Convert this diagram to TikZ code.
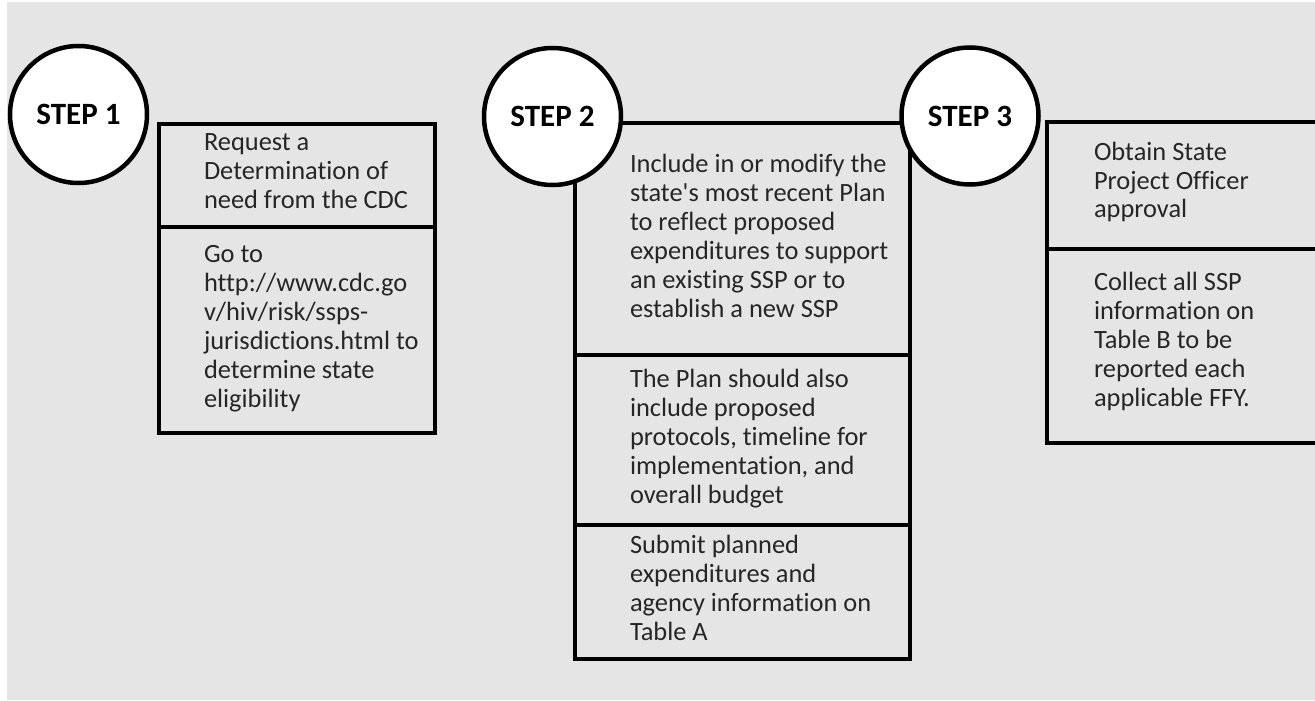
\documentclass[tikz,border=0pt]{standalone}
\usepackage{fontspec}
\setmainfont{Carlito}[Ligatures={NoCommon}]
\definecolor{bg}{HTML}{E5E5E5}
\definecolor{ink}{HTML}{262626}
\newcommand{\celltext}[1]{\parbox[t]{400pt}{\raggedright\fontsize{26.4}{29}\selectfont #1}}
\begin{document}
\begin{tikzpicture}[x=1pt,y=-1pt,line width=4pt,
  cell/.style={draw=black,rectangle,inner sep=0pt,anchor=north west},
  opencell/.style={draw=none,rectangle,inner sep=0pt,anchor=north west},
  stepcirc/.style={draw=black,line width=4.5pt,fill=white,circle,minimum size=137pt,inner sep=0pt,
    font=\fontsize{31}{31}\selectfont\bfseries,text=black},
  txt/.style={anchor=base west,inner sep=0pt,text=ink}]
\fill[white] (0,0) rectangle (1315,701);
\useasboundingbox (0,0) rectangle (1315,701);
\fill[bg] (7,2) rectangle (1315,700);

% step 1 cells
\node[cell,minimum width=276pt,minimum height=103pt] (b1a) at (157,122) {};
\node[cell,minimum width=276pt,minimum height=206pt] (b1b) at (157,225) {};
% step 2 cells
\node[cell,minimum width=335pt,minimum height=232pt] (b2a) at (573,121) {};
\node[cell,minimum width=335pt,minimum height=170pt] (b2b) at (573,353) {};
\node[cell,minimum width=335pt,minimum height=134pt] (b2c) at (573,523) {};
% step 3 cells (open to the right edge)
\node[opencell,minimum width=268pt,minimum height=123pt] (b3a) at (1047,122) {};
\node[opencell,minimum width=268pt,minimum height=194pt] (b3b) at (1047,245) {};
\draw (b3a.north east) -- (b3a.north west) -- (b3b.south west) -- (b3b.south east);
\draw (b3a.south west) -- (b3a.south east);

% circles
\node[stepcirc] (s1) at (78.5,114.5) {STEP 1};
\node[stepcirc] (s2) at (552.5,116.5) {STEP 2};
\node[stepcirc] (s3) at (970,116) {STEP 3};

% texts
\node[txt] (t1a) at (202,150.5) {\celltext{Request a\\Determination of\\need from the CDC}};
\node[txt] (t1b) at (202,262) {\celltext{Go to\\http://www.cdc.go\\v/hiv/risk/ssps-\\jurisdictions.html to\\determine state\\eligibility}};
\node[txt] (t2a) at (628,172) {\celltext{Include in or modify the\\state\textquotesingle s most recent Plan\\to reflect proposed\\expenditures to support\\an existing SSP or to\\establish a new SSP}};
\node[txt] (t2b) at (628,387) {\celltext{The Plan should also\\include proposed\\protocols, timeline for\\implementation, and\\overall budget}};
\node[txt] (t2c) at (628,553) {\celltext{Submit planned\\expenditures and\\agency information on\\Table A}};
\node[txt] (t3a) at (1092,160) {\celltext{Obtain State\\Project Officer\\approval}};
\node[txt] (t3b) at (1092,290) {\celltext{Collect all SSP\\information on\\Table B to be\\reported each\\applicable FFY.}};
\end{tikzpicture}
\end{document}
